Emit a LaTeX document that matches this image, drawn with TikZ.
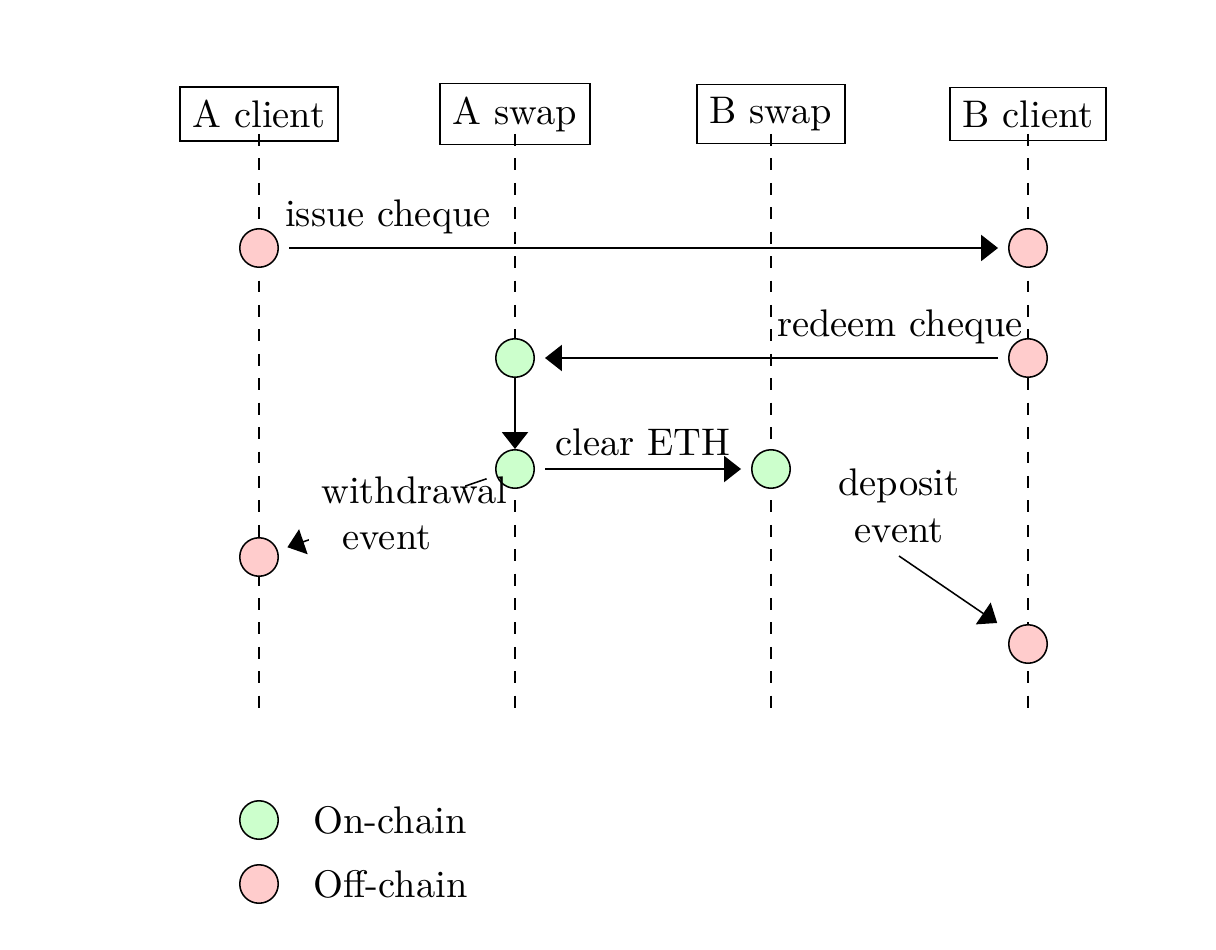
\documentclass[tikz,border=0pt]{standalone}
\usetikzlibrary{arrows.meta}
\definecolor{onc}{HTML}{CCFFCC}
\definecolor{offc}{HTML}{FFCCCC}
\begin{document}
\begin{tikzpicture}[x=0.26pt,y=-0.26pt,
  hdr/.style={draw,inner sep=3.33pt},
  lifeline/.style={dash pattern=on 3.1pt off 3.25pt},
  evon/.style={circle,draw,fill=onc,minimum size=10pt,inner sep=0pt},
  evoff/.style={circle,draw,fill=offc,minimum size=10pt,inner sep=0pt},
  arr/.style={-{Triangle[length=4.4pt,width=6.8pt]}},
  sh/.style={shorten >=2.6pt,shorten <=2.6pt},
  lbl/.style={inner sep=3.33pt}]
\useasboundingbox (0,0) rectangle (1216,950);
% headers
\node[hdr] (hA) at (259,114) {A client};
\node[hdr] (hB) at (515,114) {A swap};
\node[hdr] (hC) at (771,114) {B swap};
\node[hdr] (hD) at (1028,114) {B client};
% lifeline ends
\coordinate (eA) at (259,712);
\coordinate (eB) at (515,712);
\coordinate (eC) at (771,712);
\coordinate (eD) at (1028,712);
\draw[lifeline] (hA.center) ++(0,20) -- (eA);
\draw[lifeline] (hB.center) ++(0,20) -- (eB);
\draw[lifeline] (hC.center) ++(0,20) -- (eC);
\draw[lifeline] (hD.center) ++(0,20) -- (eD);
% events
\node[evoff] (r1) at (259,248) {};
\node[evoff] (r2) at (1028,248) {};
\node[evon]  (g1) at (515,358) {};
\node[evoff] (r3) at (1028,358) {};
\node[evon]  (g2) at (515,469) {};
\node[evon]  (g3) at (771,469) {};
\node[evoff] (r4) at (259,557) {};
\node[evoff] (r5) at (1028,644) {};
% messages
\draw[arr,sh] (r1) -- (r2);
\node[lbl] (t1) at (388,217) {issue cheque};
\draw[arr,sh] (r3) -- (g1);
\node[lbl] (t2) at (900,327) {redeem cheque};
\draw[arr] (g1) -- (g2);
\draw[arr,sh] (g2) -- (g3);
\node[lbl] (t3) at (643,442) {clear ETH};
\draw[arr,sh] (g2) -- node[fill=white,text width=1.2cm,align=center,inner sep=3.33pt] (t4) {withdrawal\\event} (r4);
\node[lbl,align=center,anchor=south] (t5) at (899,556) {deposit\\event};
\draw[arr,shorten >=4.5pt] (t5.south) -- (r5);
% legend
\node[evon]  (lg1) at (259,820) {};
\node[lbl,anchor=west] (lt1) at (300,820) {On-chain};
\node[evoff] (lg2) at (259,884) {};
\node[lbl,anchor=west] (lt2) at (300,884) {Off-chain};
\end{tikzpicture}
\end{document}
